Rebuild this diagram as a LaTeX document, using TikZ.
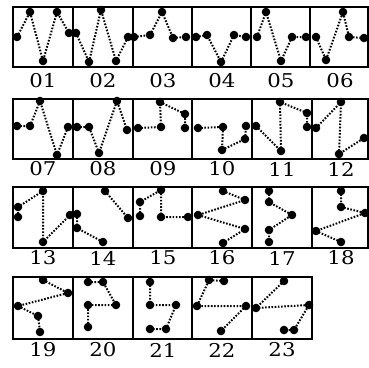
\documentclass[tikz,border=0pt]{standalone}
\usepackage{fontspec}
\newfontfamily\labfont{DejaVu Serif}
\begin{document}
\begin{tikzpicture}[x=1pt,y=-1pt,
  frame/.style={line width=1.9pt},
  pl/.style={line width=2pt, dash pattern=on 1.6pt off 1.6pt, mark=*, mark size=3.2pt, mark options={solid,fill=black}},
  lab/.style={font=\labfont\fontsize{19}{19}\selectfont, inner sep=0pt}]
\useasboundingbox (0,0) rectangle (369,367);
% frames
\draw[frame] (13,7) rectangle (368,67);
\foreach \x in {73,133,192,251,310} \draw[frame] (\x,7) -- (\x,67);
\draw[frame] (13,99) rectangle (368,159);
\foreach \x in {73,133,192,252,312} \draw[frame] (\x,99) -- (\x,159);
\draw[frame] (13,187) rectangle (368,248);
\foreach \x in {73,133,192,252,312} \draw[frame] (\x,187) -- (\x,248);
\draw[frame] (13,277) rectangle (312,339);
\foreach \x in {73,133,192,252} \draw[frame] (\x,277) -- (\x,339);
% row 1
\draw[pl] plot coordinates {(17,37) (30,12) (43,61) (57,12) (69,33)};
\draw[pl] plot coordinates {(76,33) (89,62) (101,10) (116,61) (128,37)};
\draw[pl] plot coordinates {(134,37) (150,35) (162,12) (173,38) (186,37)};
\draw[pl] plot coordinates {(196,37) (207,35) (221,62) (234,35) (246,37)};
\draw[pl] plot coordinates {(257,37) (266,12) (281,61) (292,37) (306,37)};
\draw[pl] plot coordinates {(316,37) (326,60) (343,12) (349,37) (364,38)};
% row 2
\draw[pl] plot coordinates {(17,126) (30,126) (40,101) (57,155) (68,127)};
\draw[pl] plot coordinates {(77,127) (89,127) (99,153) (117,101) (127,130)};
\draw[pl] plot coordinates {(138,128) (161,127) (160,102) (185,114) (185,128)};
\draw[pl] plot coordinates {(198,128) (223,127) (222,150) (245,139) (246,126)};
\draw[pl] plot coordinates {(256,126) (281,151) (280,102) (307,113) (307,127)};
\draw[pl] plot coordinates {(316,128) (341,102) (339,154) (364,138)};
% row 3
\draw[pl] plot coordinates {(18,217) (18,207) (43,191) (43,242) (70,215)};
\draw[pl] plot coordinates {(77,214) (77,228) (103,242)};
\draw[pl] plot coordinates {(105,191) (128,218)};
\draw[pl] plot coordinates {(140,216) (140,202) (161,190) (161,217) (188,217)};
\draw[pl] plot coordinates {(223,191) (245,200) (198,215) (245,229) (223,243)};
\draw[pl] plot coordinates {(269,191) (269,202) (292,215) (269,230) (269,242)};
\draw[pl] plot coordinates {(341,191) (341,207) (365,213) (316,231) (341,242)};
% row 4
\draw[pl] plot coordinates {(43,280) (68,293) (18,306) (38,316) (40,332)};
\draw[pl] plot coordinates {(88,282) (103,282) (116,305) (88,305) (88,327)};
\draw[pl] plot coordinates {(150,282) (150,305) (176,305) (166,329) (150,329)};
\draw[pl] plot coordinates {(224,281) (209,280) (197,306) (246,306) (221,331)};
\draw[pl] plot coordinates {(284,281) (256,308) (309,305) (294,330) (284,330)};
% labels
\foreach \t/\x in {01/43,02/103,03/163,04/222,05/281,06/340} \node[lab] (l\t) at (\x,81) {\scalebox{1.12}[1]{\t}};
\foreach \t/\x in {07/43,08/103,09/163,10/222,11/282,12/341} \node[lab] (l\t) at (\x,169) {\scalebox{1.12}[1]{\t}};
\foreach \t/\x in {13/43,14/103,15/163,16/222,17/282,18/341} \node[lab] (l\t) at (\x,258) {\scalebox{1.12}[1]{\t}};
\foreach \t/\x in {19/43,20/103,21/163,22/222,23/282} \node[lab] (l\t) at (\x,350) {\scalebox{1.12}[1]{\t}};
\end{tikzpicture}
\end{document}
